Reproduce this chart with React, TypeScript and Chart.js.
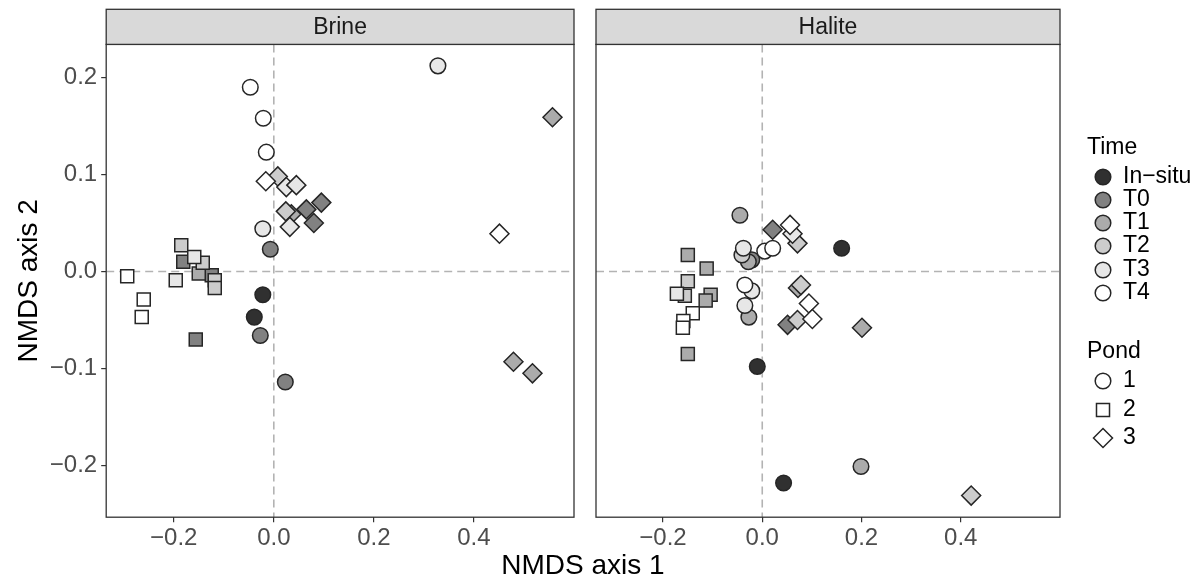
import React, { useEffect, useRef } from "react";
import { Chart, registerables } from "chart.js";

Chart.register(...registerables);

const FONT = "'Liberation Sans', Arial, Helvetica, sans-serif";
Chart.defaults.font.family = FONT;

// Factor levels
const timeLevels = ["In−situ", "T0", "T1", "T2", "T3", "T4"];
const timeFills = ["#303030", "#818181", "#ababab", "#cccccc", "#e7e7e7", "#ffffff"];
const pondLevels = ["1", "2", "3"];
const pondShapes = ["circle", "rect", "rectRot"];
const pondRadii = [7.8, 9.2, 9.5];

// Axes
const xTicks = [-0.2, 0, 0.2, 0.4];
const xTickLabels = ["−0.2", "0.0", "0.2", "0.4"];
const yTicks = [-0.2, -0.1, 0, 0.1, 0.2];
const yTickLabels = ["−0.2", "−0.1", "0.0", "0.1", "0.2"];
const xRange = [-0.335, 0.6];
const yRange = [-0.2533, 0.2341];

// Brine samples
const brinePond1X = [-0.022, -0.039, -0.007, -0.027, 0.023, 0.328, -0.022, -0.047, -0.021, -0.015];
const brinePond1Y = [-0.024, -0.047, 0.023, -0.066, -0.114, 0.212, 0.044, 0.19, 0.158, 0.123];
const brinePond1Time = ["In−situ", "In−situ", "T0", "T0", "T0", "T3", "T3", "T4", "T4", "T4"];

const brinePond2X = [-0.181, -0.124, -0.156, -0.15, -0.185, -0.142, -0.118, -0.118, -0.159, -0.196, -0.293, -0.26, -0.264];
const brinePond2Y = [0.01, -0.004, -0.07, -0.002, 0.027, 0.009, -0.009, -0.017, 0.015, -0.009, -0.005, -0.029, -0.047];
const brinePond2Time = ["T0", "T0", "T0", "T1", "T2", "T2", "T2", "T2", "T3", "T3", "T4", "T4", "T4"];

const brinePond3X = [0.065, 0.095, 0.08, 0.035, 0.557, 0.479, 0.517, 0.008, 0.024, 0.025, 0.045, 0.032, -0.016, 0.451];
const brinePond3Y = [0.064, 0.071, 0.05, 0.059, 0.159, -0.093, -0.105, 0.098, 0.062, 0.087, 0.089, 0.046, 0.093, 0.039];
const brinePond3Time = ["T0", "T0", "T0", "T1", "T1", "T1", "T1", "T2", "T2", "T3", "T3", "T3", "T4", "T4"];

// Halite samples
const halitePond1X = [0.16, -0.01, 0.043, -0.021, -0.045, -0.028, -0.027, 0.199, -0.041, -0.038, -0.021, -0.035, -0.035, 0.005, 0.021];
const halitePond1Y = [0.024, -0.098, -0.218, 0.012, 0.058, 0.01, -0.047, -0.201, 0.017, 0.024, -0.02, -0.035, -0.014, 0.021, 0.024];
const halitePond1Time = ["In−situ", "In−situ", "In−situ", "T0", "T1", "T1", "T1", "T1", "T2", "T3", "T3", "T3", "T4", "T4", "T4"];

const halitePond2X = [-0.15, -0.112, -0.104, -0.114, -0.15, -0.15, -0.156, -0.172, -0.14, -0.159, -0.16];
const halitePond2Y = [0.017, 0.003, -0.024, -0.03, -0.085, -0.01, -0.025, -0.023, -0.043, -0.051, -0.058];
const halitePond2Time = ["T1", "T1", "T1", "T1", "T1", "T2", "T2", "T3", "T4", "T4", "T4"];

const halitePond3X = [0.021, 0.051, 0.072, 0.201, 0.071, 0.078, 0.071, 0.421, 0.061, 0.056, 0.094, 0.101];
const halitePond3Y = [0.043, -0.055, -0.017, -0.058, 0.029, -0.014, -0.05, -0.231, 0.039, 0.048, -0.033, -0.049];
const halitePond3Time = ["T0", "T0", "T1", "T1", "T2", "T2", "T2", "T2", "T3", "T4", "T4", "T4"];

// Page layout (pixels)
const CANVAS_H = 581;
const LEFT_W = 585;
const RIGHT_W = 613;
const PLOT_TOP = 44.4;
const PLOT_BOTTOM = 517.2;
const STRIP_TOP = 9.3;
const LEGEND_LEFT = 1087;

function pondDataset(xs: number[], ys: number[], times: string[], pond: number) {
  return {
    label: "Pond " + pondLevels[pond],
    data: xs.map((x, i) => ({ x, y: ys[i] })),
    pointStyle: pondShapes[pond],
    pointRadius: pondRadii[pond],
    pointHoverRadius: pondRadii[pond],
    pointBackgroundColor: times.map((t) => timeFills[timeLevels.indexOf(t)]),
    pointBorderColor: "#262626",
    pointBorderWidth: 1.5,
    showLine: false,
  };
}

function shapePath(ctx: CanvasRenderingContext2D, shape: string, x: number, y: number, r: number) {
  ctx.beginPath();
  if (shape === "circle") {
    ctx.arc(x, y, r, 0, Math.PI * 2);
  } else if (shape === "rect") {
    const s = Math.SQRT1_2 * r;
    ctx.rect(x - s, y - s, 2 * s, 2 * s);
  } else {
    ctx.moveTo(x, y - r);
    ctx.lineTo(x + r, y);
    ctx.lineTo(x, y + r);
    ctx.lineTo(x - r, y);
    ctx.closePath();
  }
}

function panelDecor(stripText: string) {
  return {
    id: "panelDecor",
    beforeDatasetsDraw(chart: any) {
      const { ctx, chartArea: a, scales } = chart;
      const x0 = scales.x.getPixelForValue(0);
      const y0 = scales.y.getPixelForValue(0);
      ctx.save();
      ctx.beginPath();
      ctx.rect(a.left, a.top, a.right - a.left, a.bottom - a.top);
      ctx.clip();
      ctx.strokeStyle = "#b3b3b3";
      ctx.lineWidth = 1.6;
      ctx.setLineDash([8, 5]);
      ctx.beginPath();
      ctx.moveTo(a.left, y0);
      ctx.lineTo(a.right, y0);
      ctx.stroke();
      ctx.beginPath();
      ctx.moveTo(x0, a.top);
      ctx.lineTo(x0, a.bottom);
      ctx.stroke();
      ctx.restore();
    },
    afterDraw(chart: any) {
      const { ctx, chartArea: a } = chart;
      ctx.save();
      ctx.strokeStyle = "#333333";
      ctx.lineWidth = 1.3;
      ctx.strokeRect(a.left, a.top, a.right - a.left, a.bottom - a.top);
      ctx.fillStyle = "#d9d9d9";
      ctx.fillRect(a.left, STRIP_TOP, a.right - a.left, a.top - STRIP_TOP);
      ctx.strokeRect(a.left, STRIP_TOP, a.right - a.left, a.top - STRIP_TOP);
      ctx.fillStyle = "#1a1a1a";
      ctx.font = "23px " + FONT;
      ctx.textAlign = "center";
      ctx.textBaseline = "middle";
      ctx.fillText(stripText, (a.left + a.right) / 2, (STRIP_TOP + a.top) / 2 + 1);
      ctx.restore();
    },
  };
}

const timeKeyY = [177, 200, 223, 246, 270, 293];
const pondKeyY = [381, 410, 438];

const legendPlugin = {
  id: "groupLegend",
  afterDraw(chart: any) {
    const ctx: CanvasRenderingContext2D = chart.ctx;
    const ox = LEFT_W;
    const left = LEGEND_LEFT - ox;
    const keyX = left + 16;
    const textX = left + 36;
    ctx.save();
    ctx.fillStyle = "#000";
    ctx.textAlign = "left";
    ctx.textBaseline = "middle";
    ctx.font = "23px " + FONT;
    ctx.fillText("Time", left, 148);
    timeLevels.forEach((t, i) => {
      shapePath(ctx, "circle", keyX, timeKeyY[i], pondRadii[0]);
      ctx.fillStyle = timeFills[i];
      ctx.fill();
      ctx.lineWidth = 1.5;
      ctx.strokeStyle = "#262626";
      ctx.stroke();
      ctx.fillStyle = "#000";
      ctx.fillText(t, textX, timeKeyY[i]);
    });
    ctx.fillText("Pond", left, 352);
    pondLevels.forEach((p, i) => {
      shapePath(ctx, pondShapes[i], keyX, pondKeyY[i], pondRadii[i]);
      ctx.fillStyle = "#ffffff";
      ctx.fill();
      ctx.lineWidth = 1.5;
      ctx.strokeStyle = "#262626";
      ctx.stroke();
      ctx.fillStyle = "#000";
      ctx.fillText(p, textX, pondKeyY[i]);
    });
    ctx.restore();
  },
};

function makeConfig(stripText: string, datasets: any[], showY: boolean, padding: any, extraPlugins: any[]) {
  return {
    type: "scatter" as const,
    data: { datasets },
    options: {
      animation: false,
      responsive: false,
      maintainAspectRatio: false,
      events: [],
      layout: { padding },
      plugins: {
        legend: { display: false },
        tooltip: { enabled: false },
        title: { display: false },
      },
      scales: {
        x: {
          type: "linear",
          min: xRange[0],
          max: xRange[1],
          afterFit: (s: any) => {
            s.height = CANVAS_H - PLOT_BOTTOM;
          },
          afterBuildTicks: (s: any) => {
            s.ticks = xTicks.map((v) => ({ value: v }));
          },
          ticks: {
            callback: (v: number) => xTickLabels[xTicks.indexOf(v)],
            color: "#4d4d4d",
            font: { size: 24 },
            padding: 2,
            maxRotation: 0,
            autoSkip: false,
          },
          grid: { drawOnChartArea: false, drawTicks: true, tickLength: 5, color: "#333333", lineWidth: 1.2 },
          border: { display: false },
        },
        y: {
          type: "linear",
          display: showY,
          min: yRange[0],
          max: yRange[1],
          afterFit: (s: any) => {
            if (showY) s.width = 94;
          },
          afterBuildTicks: (s: any) => {
            s.ticks = yTicks.map((v) => ({ value: v }));
          },
          ticks: {
            callback: (v: number) => yTickLabels[yTicks.indexOf(v)],
            color: "#4d4d4d",
            font: { size: 24 },
            padding: 4,
            autoSkip: false,
          },
          grid: { drawOnChartArea: false, drawTicks: true, tickLength: 5, color: "#333333", lineWidth: 1.2 },
          border: { display: false },
          title: {
            display: showY,
            text: "NMDS axis 2",
            color: "#000",
            font: { size: 28 },
            padding: 0,
          },
        },
      },
    },
    plugins: [panelDecor(stripText), ...extraPlugins],
  };
}

export default function App() {
  const leftRef = useRef<HTMLCanvasElement>(null);
  const rightRef = useRef<HTMLCanvasElement>(null);

  useEffect(() => {
    const brine = [
      pondDataset(brinePond1X, brinePond1Y, brinePond1Time, 0),
      pondDataset(brinePond2X, brinePond2Y, brinePond2Time, 1),
      pondDataset(brinePond3X, brinePond3Y, brinePond3Time, 2),
    ];
    const halite = [
      pondDataset(halitePond1X, halitePond1Y, halitePond1Time, 0),
      pondDataset(halitePond2X, halitePond2Y, halitePond2Time, 1),
      pondDataset(halitePond3X, halitePond3Y, halitePond3Time, 2),
    ];
    const left = new Chart(
      leftRef.current as HTMLCanvasElement,
      makeConfig("Brine", brine, true, { left: 12.2, top: PLOT_TOP, right: 6.6, bottom: 0 }, []) as any
    );
    const right = new Chart(
      rightRef.current as HTMLCanvasElement,
      makeConfig("Halite", halite, false, { left: 3, top: PLOT_TOP, right: 138, bottom: 0 }, [legendPlugin]) as any
    );
    return () => {
      left.destroy();
      right.destroy();
    };
  }, []);

  return (
    <div
      style={{
        position: "absolute",
        left: 0,
        top: 0,
        width: 1198,
        height: CANVAS_H,
        background: "#ffffff",
        overflow: "hidden",
      }}
    >
      <canvas
        ref={leftRef}
        width={LEFT_W}
        height={CANVAS_H}
        style={{ position: "absolute", left: 0, top: 0, width: LEFT_W, height: CANVAS_H }}
      />
      <canvas
        ref={rightRef}
        width={RIGHT_W}
        height={CANVAS_H}
        style={{ position: "absolute", left: LEFT_W, top: 0, width: RIGHT_W, height: CANVAS_H }}
      />
      <div
        style={{
          position: "absolute",
          left: 0,
          top: 551,
          width: 1166,
          height: 28,
          lineHeight: "28px",
          textAlign: "center",
          fontFamily: FONT,
          fontSize: 28,
          color: "#000",
          whiteSpace: "nowrap",
        }}
      >
        NMDS axis 1
      </div>
    </div>
  );
}
